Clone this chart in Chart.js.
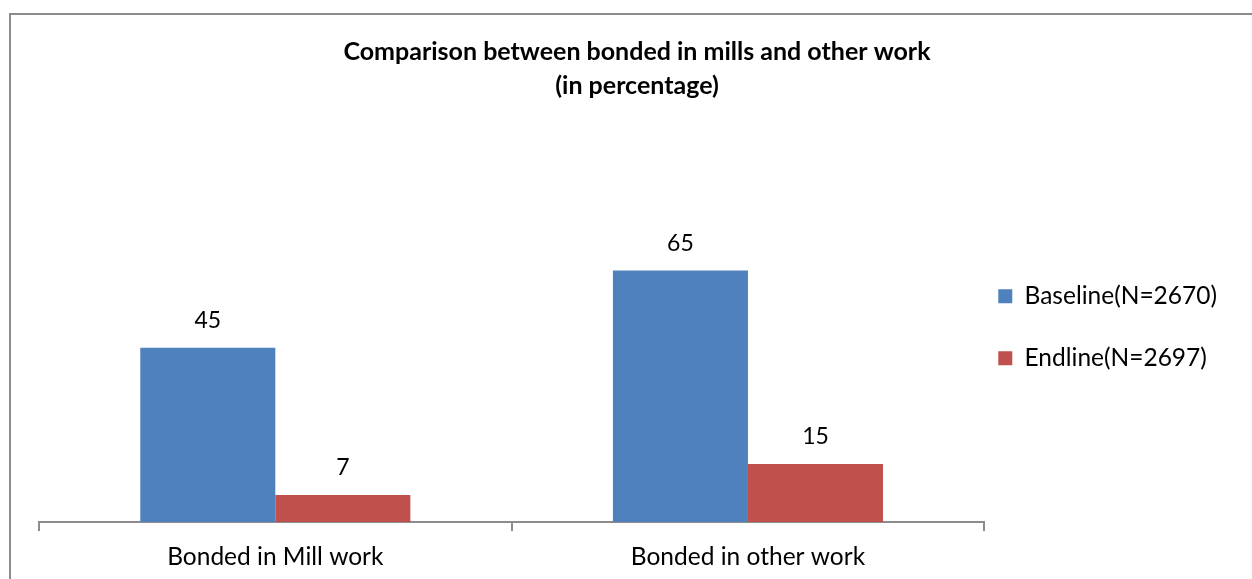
<!DOCTYPE html>
<html>
<head>
<meta charset="utf-8">
<script src="https://cdn.jsdelivr.net/npm/chart.js@4/dist/chart.umd.min.js"></script>
<style>
  html, body { margin: 0; padding: 0; background: #fff; }
  #wrap { position: relative; width: 1252px; height: 579px; overflow: hidden; }
  #frame {
    position: absolute; left: 9px; top: 13px; width: 1256px; height: 600px;
    border: 2px solid #8c8c8c; pointer-events: none;
  }
</style>
</head>
<body>
<div id="wrap">
  <canvas id="chart" width="1252" height="579"></canvas>
  <div id="frame"></div>
</div>
<script>
const categories = ['Bonded in Mill work', 'Bonded in other work'];
const baseline = [45, 65];
const endline = [7, 15];
const seriesNames = ['Baseline(N=2670)', 'Endline(N=2697)'];
const titleLines = ['Comparison between bonded in mills and other work', '(in percentage)'];

const FONT = "Lato, 'Open Sans', sans-serif";
// the original chart box runs a bit past the right edge of the picture
const FRAME_LEFT = 9;
const FRAME_RIGHT = 1265;

// draws the number above each bar, like excel data labels
const barValues = {
  id: 'barValues',
  afterDatasetsDraw(chart) {
    const ctx = chart.ctx;
    ctx.save();
    ctx.font = '23px ' + FONT;
    ctx.fillStyle = '#000';
    ctx.textAlign = 'center';
    ctx.textBaseline = 'middle';
    chart.data.datasets.forEach((ds, i) => {
      chart.getDatasetMeta(i).data.forEach((bar, j) => {
        ctx.fillText(ds.data[j], bar.x, bar.y - 27);
      });
    });
    ctx.restore();
  }
};

// excel centres the title on the whole chart box, not on canvas minus legend
const centerTitle = {
  id: 'centerTitle',
  afterLayout(chart) {
    const t = chart.titleBlock;
    if (!t) return;
    t.left = FRAME_LEFT;
    t.right = FRAME_RIGHT;
  }
};

new Chart(document.getElementById('chart'), {
  type: 'bar',
  data: {
    labels: categories,
    datasets: [
      { label: seriesNames[0], data: baseline, backgroundColor: '#4f81bd' },
      { label: seriesNames[1], data: endline, backgroundColor: '#c0504d' }
    ]
  },
  options: {
    responsive: false,
    animation: false,
    layout: { padding: { left: 22, right: 25, top: 28, bottom: 0 } },
    datasets: { bar: { categoryPercentage: 2 / 3.5, barPercentage: 1 } },
    plugins: {
      title: {
        display: true,
        text: titleLines,
        color: '#000',
        font: { family: FONT, size: 25, weight: 'bold', lineHeight: '34px' },
        padding: { top: 7, bottom: 32 }
      },
      legend: {
        position: 'right',
        // empty title only pushes the items down
        title: { display: true, text: '', font: { size: 10 }, padding: { top: 59, bottom: 0 } },
        labels: {
          color: '#000',
          font: { family: FONT, size: 24.5, lineHeight: '48px' },
          boxWidth: 14,
          boxHeight: 14,
          padding: 14,
          // array text so the row step follows the font lineHeight
          generateLabels(chart) {
            return Chart.defaults.plugins.legend.labels.generateLabels(chart)
              .map(item => Object.assign(item, { text: [item.text] }));
          }
        }
      },
      tooltip: { enabled: false }
    },
    scales: {
      x: {
        grid: { display: true, drawOnChartArea: false, offset: true, tickLength: 9, color: '#8c8c8c', lineWidth: 2 },
        border: { display: true, color: '#8c8c8c', width: 2 },
        ticks: { color: '#000', font: { family: FONT, size: 24.5 }, padding: 11 },
        afterFit(scale) { scale.height = 57; }
      },
      y: {
        display: true,
        min: 0,
        max: 100,
        grid: { display: false },
        border: { display: false },
        ticks: { display: false },
        afterFit(scale) { scale.width = 17; }
      }
    }
  },
  plugins: [barValues, centerTitle]
});
</script>
</body>
</html>
